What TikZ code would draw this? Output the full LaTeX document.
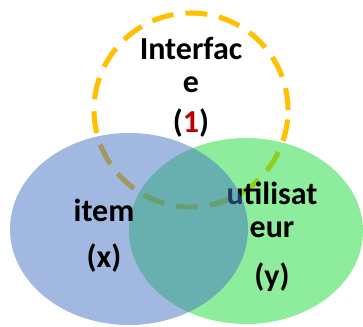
\documentclass[tikz,border=0pt]{standalone}
\usepackage{fontspec}
\setmainfont{Carlito}
\usepackage{tikz}
\definecolor{vennblue}{RGB}{68,114,196}
\definecolor{venngreen}{RGB}{30,220,60}
\definecolor{dashgold}{RGB}{255,192,0}
\definecolor{darkred}{RGB}{192,0,0}

\begin{document}
\begin{tikzpicture}[x=0.75pt,y=0.75pt,
    lbl/.style={font=\fontsize{24}{24.75}\selectfont\bfseries, align=center, anchor=base, inner sep=0pt}]
  \useasboundingbox (0,0) rectangle (363,327);
  % Draw the interface circle
  \draw[dashgold, line width=3.8pt, dash pattern=on 16.5pt off 9pt] (191,217) circle (97);
  % user set
  \fill[venngreen, opacity=0.5] (246,96) ellipse [x radius=117, y radius=93];
  \node[lbl] (user) at (272,40) {utilisat\\eur\\[12pt](y)};
  % item set
  \fill[vennblue, opacity=0.5] (129,98) ellipse [x radius=119, y radius=96];
  \node[lbl] (item) at (104,59) {item\\[9.75pt](x)};
  % interface label
  \node[lbl] (interface) at (191,194) {Interfac\\e\\[5.25pt](\textcolor{darkred}{1})};
\end{tikzpicture}
\end{document}
